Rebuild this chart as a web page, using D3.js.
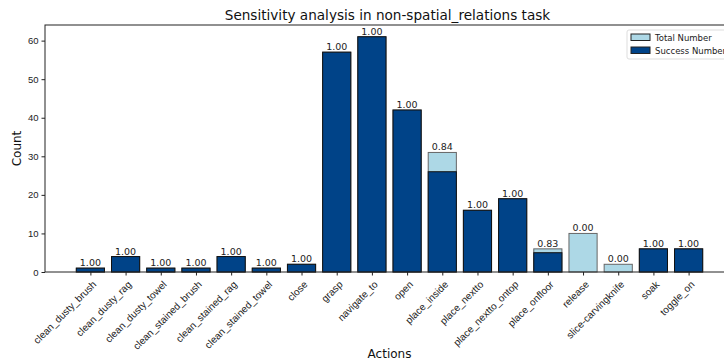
<!DOCTYPE html>
<html>
<head>
<meta charset="utf-8">
<script src="https://cdn.jsdelivr.net/npm/d3@7"></script>
<style>
  body { margin: 0; background: #fff; }
  svg { font-family: "DejaVu Sans", sans-serif; display: block; }
</style>
</head>
<body>
<div id="chart"></div>
<script>
// data
var actions = ["clean_dusty_brush", "clean_dusty_rag", "clean_dusty_towel", "clean_stained_brush",
    "clean_stained_rag", "clean_stained_towel", "close", "grasp", "navigate_to", "open",
    "place_inside", "place_nextto", "place_nextto_ontop", "place_onfloor", "release",
    "slice-carvingknife", "soak", "toggle_on"];
var totalNumber   = [1, 4, 1, 1, 4, 1, 2, 57, 61, 42, 31, 16, 19, 6, 10, 2, 6, 6];
var successNumber = [1, 4, 1, 1, 4, 1, 2, 57, 61, 42, 26, 16, 19, 5, 0, 0, 6, 6];
var yTicks = [0, 10, 20, 30, 40, 50, 60];
var legendLabels = ["Total Number", "Success Number"];

var width = 724, height = 363;
var margin = {top: 25, right: -10, bottom: 91, left: 45};
var plotW = width - margin.left - margin.right;
var plotH = height - margin.top - margin.bottom;
var lightColor = "#add8e6", darkColor = "#004388";

var svg = d3.select("#chart").append("svg")
    .attr("width", width)
    .attr("height", height);

var g = svg.append("g")
    .attr("transform", "translate(" + margin.left + "," + margin.top + ")");

// matplotlib-like x limits: bars of width 0.8 plus 5% margin
var n = actions.length;
var span = (n - 1) + 0.8;
var x = d3.scaleLinear()
    .domain([-0.4 - span * 0.05, n - 1 + 0.4 + span * 0.05])
    .range([0, plotW]);
var y = d3.scaleLinear()
    .domain([0, d3.max(totalNumber) * 1.05])
    .range([plotH, 0]);

var bw = x(0.8) - x(0);

// total bars
g.selectAll(".total").data(totalNumber).enter().append("rect")
    .attr("class", "total")
    .attr("x", function (d, i) { return x(i - 0.4); })
    .attr("y", function (d) { return y(d); })
    .attr("width", bw)
    .attr("height", function (d) { return plotH - y(d); })
    .attr("fill", lightColor)
    .attr("stroke", "#666")
    .attr("stroke-width", 1);

// success bars
g.selectAll(".success").data(successNumber).enter().append("rect")
    .attr("class", "success")
    .attr("x", function (d, i) { return x(i - 0.4); })
    .attr("y", function (d) { return y(d); })
    .attr("width", bw)
    .attr("height", function (d) { return plotH - y(d); })
    .attr("fill", darkColor)
    .attr("stroke", function (d) { return d > 0 ? "#111" : "none"; })
    .attr("stroke-width", 1);

// ratio labels
g.selectAll(".ratio").data(totalNumber).enter().append("text")
    .attr("class", "ratio")
    .attr("x", function (d, i) { return x(i); })
    .attr("y", function (d) { return y(d) - 2; })
    .attr("text-anchor", "middle")
    .attr("font-size", 9.5)
    .attr("fill", "#222")
    .text(function (d, i) { return (successNumber[i] / d).toFixed(2); });

// axes
var xAxis = d3.axisBottom(x)
    .tickValues(d3.range(n))
    .tickFormat(function (i) { return actions[i]; })
    .tickSize(3.5)
    .tickSizeOuter(0);
var xg = g.append("g")
    .attr("transform", "translate(0," + plotH + ")")
    .call(xAxis);
xg.selectAll("text")
    .attr("font-size", 10)
    .attr("fill", "#222")
    .attr("text-anchor", "end")
    .attr("dy", null)
    .attr("y", null)
    .attr("transform", "translate(1,8) rotate(-45)")
    .attr("dominant-baseline", "hanging");

var yAxis = d3.axisLeft(y)
    .tickValues(yTicks)
    .tickSize(3.5)
    .tickSizeOuter(0);
var yg = g.append("g").call(yAxis);
yg.selectAll("text").attr("font-size", 9.5).attr("fill", "#222");

g.selectAll(".domain").remove();
g.selectAll(".tick line").attr("stroke", "#222");

// frame
g.append("rect")
    .attr("width", plotW)
    .attr("height", plotH)
    .attr("fill", "none")
    .attr("stroke", "#222")
    .attr("stroke-width", 1);

// title and axis labels
svg.append("text")
    .attr("x", margin.left + plotW / 2 - 2)
    .attr("y", 20)
    .attr("text-anchor", "middle")
    .attr("font-size", 13.6)
    .attr("fill", "#111")
    .text("Sensitivity analysis in non-spatial_relations task");

svg.append("text")
    .attr("x", margin.left + plotW / 2)
    .attr("y", 358)
    .attr("text-anchor", "middle")
    .attr("font-size", 12)
    .attr("fill", "#111")
    .text("Actions");

svg.append("text")
    .attr("transform", "translate(21," + (margin.top + plotH / 2) + ") rotate(-90)")
    .attr("text-anchor", "middle")
    .attr("font-size", 12)
    .attr("fill", "#111")
    .text("Count");

// legend
var legend = svg.append("g").attr("transform", "translate(627,30)");
legend.append("rect")
    .attr("width", 110)
    .attr("height", 29)
    .attr("rx", 2)
    .attr("fill", "#fff")
    .attr("stroke", "#ddd");
legendLabels.forEach(function (label, i) {
    legend.append("rect")
        .attr("x", 4)
        .attr("y", 4 + i * 13)
        .attr("width", 19)
        .attr("height", 6.5)
        .attr("fill", i === 0 ? lightColor : darkColor)
        .attr("stroke", "#222");
    legend.append("text")
        .attr("x", 28)
        .attr("y", 11 + i * 13)
        .attr("font-size", 8.5)
        .attr("fill", "#222")
        .text(label);
});
</script>
</body>
</html>
